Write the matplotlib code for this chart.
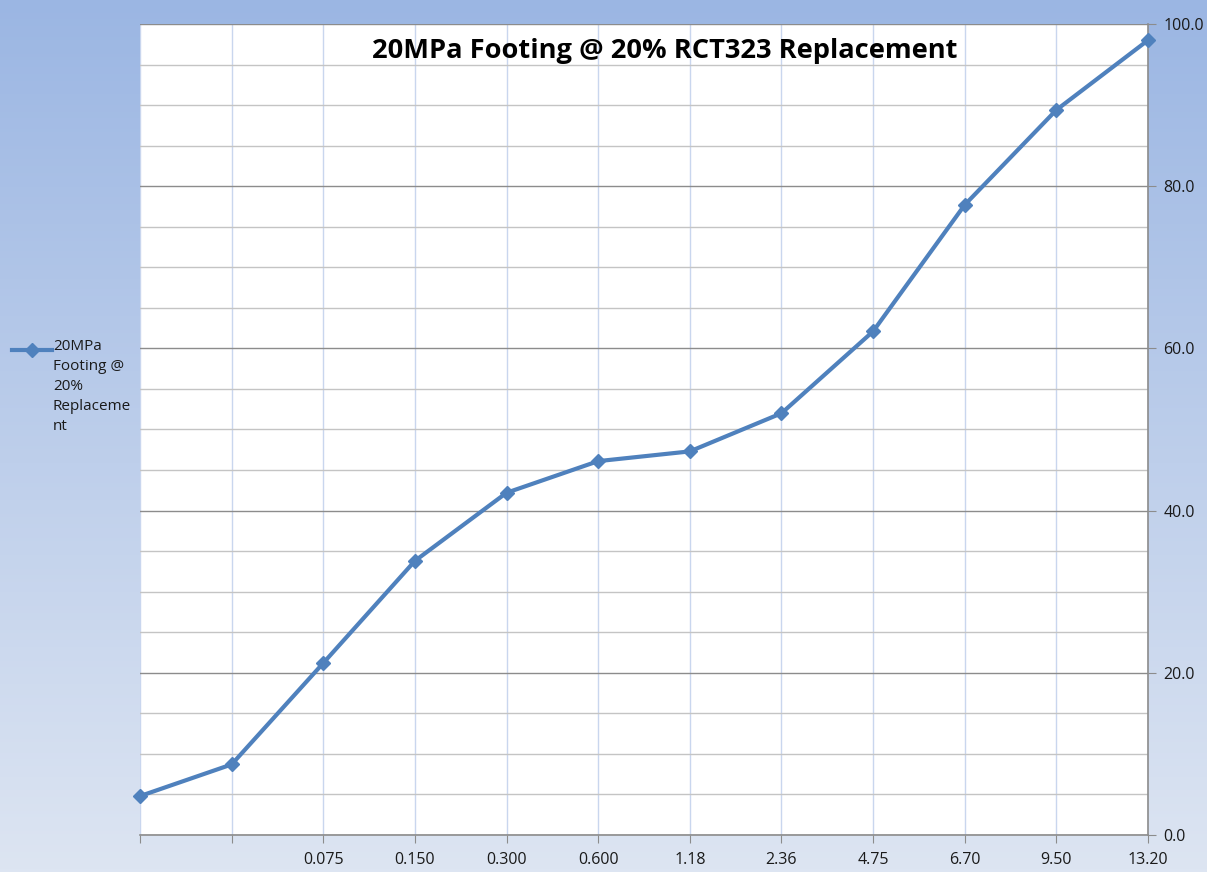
import matplotlib
matplotlib.use("Agg")
import matplotlib.pyplot as plt
import numpy as np
from matplotlib.colors import LinearSegmentedColormap

categories = ["", "", "0.075", "0.150", "0.300", "0.600", "1.18", "2.36", "4.75", "6.70", "9.50", "13.20"]
values = [4.8, 8.7, 21.2, 33.8, 42.2, 46.1, 47.3, 52.0, 62.1, 77.7, 89.4, 98.0]
series_name = "20MPa\nFooting @\n20%\nReplaceme\nnt"
title = "20MPa Footing @ 20% RCT323 Replacement"
y_ticks = [0, 20, 40, 60, 80, 100]
y_minor = [5, 10, 15, 25, 30, 35, 45, 50, 55, 65, 70, 75, 85, 90, 95]

plt.rcParams['font.family'] = ['Open Sans', 'DejaVu Sans']

fig = plt.figure(figsize=(12.07, 8.72), dpi=100)

# gradient background
bg = fig.add_axes([0, 0, 1, 1], zorder=-10)
cmap = LinearSegmentedColormap.from_list("bg", ["#DDE5F2", "#9BB6E3"])
grad = np.linspace(0, 1, 256).reshape(-1, 1)
bg.imshow(grad, aspect="auto", cmap=cmap, origin="lower", extent=[0, 1, 0, 1])
bg.axis("off")

ax = fig.add_axes([140/1207, 1-835/872, (1148-140)/1207, (835-24)/872])
ax.set_facecolor("white")
x = np.arange(len(categories))

# gridlines
for xi in x:
    ax.axvline(xi, color="#C9D6EE", lw=1, zorder=1)
for yv in y_minor:
    ax.axhline(yv, color="#C4C4C4", lw=1, zorder=1)
for yv in y_ticks:
    ax.axhline(yv, color="#8C8C8C", lw=1, zorder=1)

ax.plot(x, values, color="#4F81BD", lw=3, marker="D", ms=7,
        markerfacecolor="#4F81BD", markeredgecolor="#4F81BD", zorder=5, clip_on=False)

ax.set_xlim(0, len(categories) - 1)
ax.set_ylim(0, 100)
ax.set_xticks(x)
ax.set_xticklabels(categories, fontsize=11.5, color="#1a1a1a")
ax.yaxis.tick_right()
ax.set_yticks(y_ticks)
ax.set_yticklabels([f"{v:.1f}" for v in y_ticks], fontsize=11.5, color="#1a1a1a")
ax.tick_params(axis="x", length=6, color="#8C8C8C", pad=6)
ax.tick_params(axis="y", length=6, color="#8C8C8C", pad=5)
for s in ["left", "top"]:
    ax.spines[s].set_visible(False)
for s in ["right", "bottom"]:
    ax.spines[s].set_color("#8C8C8C")
    ax.spines[s].set_linewidth(1.2)

fig.text(665/1207, 1-51/872, title, ha="center", va="center",
         fontsize=19.6, fontweight="bold", color="black", zorder=6)

# legend
fig.add_artist(plt.Line2D([12/1207, 52/1207], [1-350/872, 1-350/872], color="#4F81BD", lw=3,
                          transform=fig.transFigure))
fig.add_artist(plt.Line2D([32/1207], [1-350/872], color="#4F81BD", marker="D", ms=7, lw=0,
                          transform=fig.transFigure))
fig.text(53/1207, 1-339/872, series_name, fontsize=11, color="#1a1a1a", va="top", ha="left",
         linespacing=1.45)

fig.savefig("out.png", dpi=100)
